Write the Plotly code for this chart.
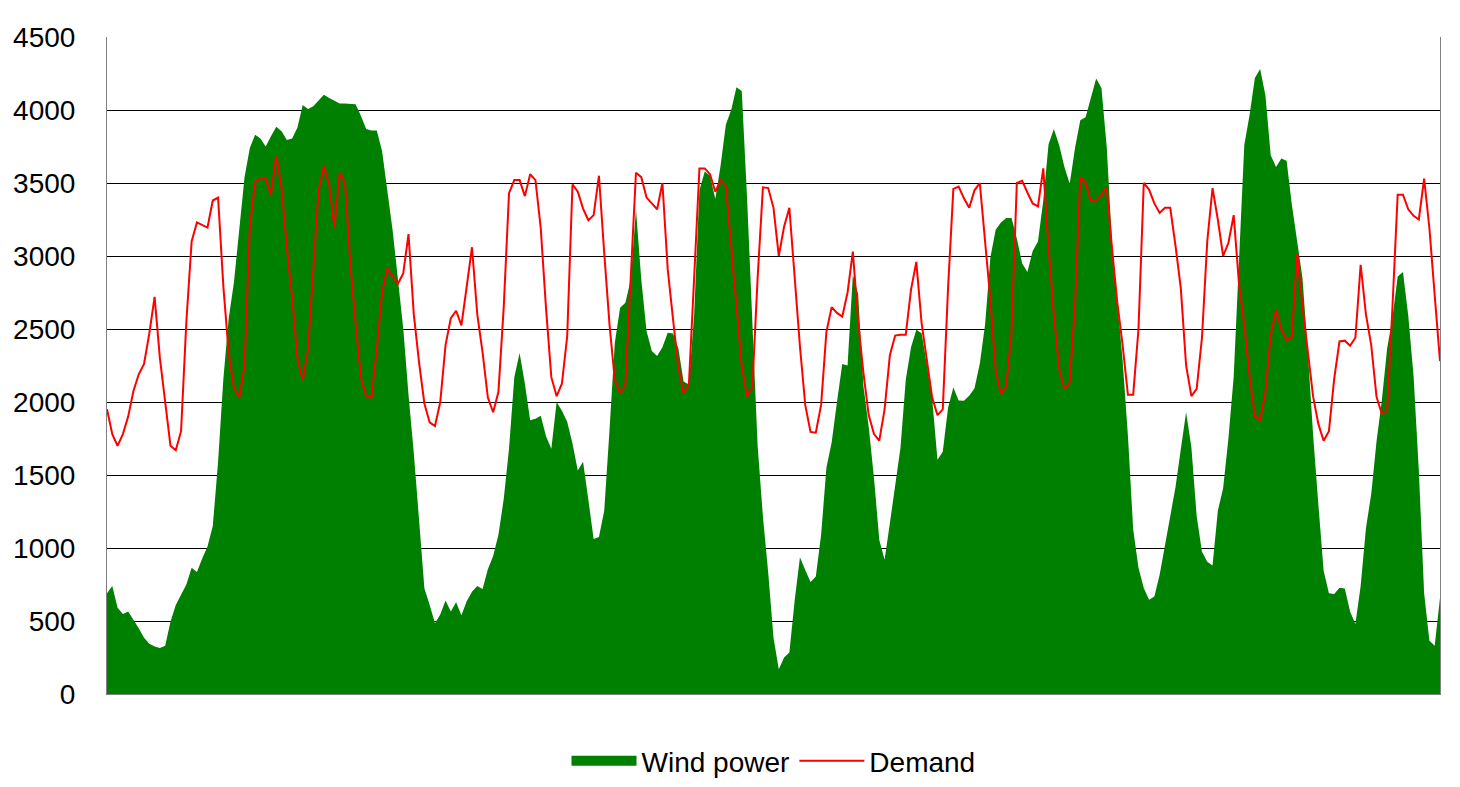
import plotly.graph_objects as go

# three weeks of data, one reading every 2 hours
hours = list(range(0, 505, 2))

demand = [
    1950, 1780, 1700, 1780, 1900, 2075, 2190, 2260, 2470, 2720,
    2300, 1980, 1700, 1670, 1800, 2550, 3100, 3230, 3215, 3195,
    3380, 3400, 2790, 2340, 2100, 2030, 2250, 3200, 3505, 3530,
    3530, 3420, 3690, 3470, 3060, 2720, 2300, 2150, 2360, 2940,
    3450, 3615, 3490, 3200, 3570, 3500, 2950, 2540, 2170, 2040,
    2030, 2360, 2750, 2915, 2860, 2810, 2880, 3150, 2600, 2270,
    1990, 1860, 1835, 2000, 2390, 2575, 2625, 2525, 2790, 3060,
    2600, 2340, 2030, 1930, 2070, 2650, 3430, 3520, 3520, 3410,
    3560, 3520, 3190, 2640, 2170, 2040, 2125, 2450, 3490, 3440,
    3325, 3245, 3280, 3550, 3020, 2530, 2150, 2060, 2120, 2900,
    3570, 3540, 3400, 3360, 3320, 3500, 2910, 2570, 2240, 2060,
    2120, 2850, 3600, 3600, 3560, 3440, 3520, 3480, 3080, 2660,
    2250, 2037, 2100, 2850, 3470, 3465, 3330, 3000, 3200, 3330,
    2860, 2380, 1980, 1795, 1790, 1980, 2480, 2650, 2610, 2585,
    2750, 3030, 2550, 2200, 1910, 1780, 1735, 1950, 2320, 2455,
    2460, 2460, 2770, 2960, 2540, 2280, 2030, 1910, 1950, 2780,
    3460, 3475, 3395, 3330, 3450, 3500, 3100, 2700, 2220, 2055,
    2110, 2480, 3500, 3515, 3435, 3360, 3340, 3600, 3060, 2600,
    2230, 2090, 2130, 2670, 3540, 3500, 3380, 3375, 3420, 3470,
    3050, 2680, 2390, 2050, 2050, 2500, 3500, 3455, 3360, 3295,
    3330, 3330, 3070, 2780, 2250, 2040, 2090, 2440, 3100, 3465,
    3250, 3000, 3090, 3280, 2810, 2530, 2180, 1905, 1875, 2070,
    2460, 2630, 2500, 2420, 2450, 3020, 2660, 2350, 2040, 1850,
    1735, 1800, 2160, 2415, 2420, 2385, 2440, 2940, 2600, 2390,
    2035, 1920, 1940, 2640, 3420, 3420, 3320, 3275, 3250, 3530,
    3190, 2730, 2280,
]

wind = [
    690, 740, 590, 548, 565, 510, 450, 385, 345, 325,
    315, 330, 495, 610, 683, 750, 865, 835, 928, 1010,
    1150, 1590, 2160, 2570, 2820, 3200, 3540, 3740, 3830, 3805,
    3750, 3820, 3885, 3855, 3795, 3805, 3880, 4035, 4006, 4025,
    4065, 4105, 4083, 4065, 4045, 4044, 4044, 4040, 3960, 3870,
    3860, 3860, 3720, 3435, 3175, 2840, 2505, 2050, 1650, 1190,
    725, 610, 485, 545, 640, 565, 628, 540, 635, 700,
    740, 720, 855, 945, 1090, 1335, 1680, 2170, 2335, 2125,
    1875, 1885, 1905, 1765, 1680, 2000, 1940, 1865, 1715, 1530,
    1590, 1330, 1062, 1075, 1255, 1810, 2405, 2646, 2680, 2835,
    3319, 2840, 2485, 2350, 2315, 2375, 2475, 2470, 2370, 2140,
    2120, 2600, 3450, 3578, 3550, 3390, 3620, 3900, 4000, 4155,
    4130, 3400, 2520, 1700, 1215, 833, 385, 170, 250, 285,
    640, 936, 850, 767, 805, 1090, 1550, 1725, 2000, 2260,
    2250, 2870, 2740, 2110, 1830, 1480, 1055, 920, 1170, 1430,
    1685, 2150, 2375, 2495, 2471, 2255, 2020, 1605, 1660, 1960,
    2100, 2010, 2008, 2043, 2095, 2262, 2530, 2990, 3180, 3230,
    3260, 3260, 3120, 2950, 2890, 3035, 3100, 3380, 3765, 3870,
    3760, 3610, 3495, 3740, 3930, 3950, 4080, 4215, 4150, 3745,
    3085, 2685, 2285, 1770, 1126, 865, 726, 645, 668, 817,
    1020, 1222, 1417, 1676, 1930, 1690, 1220, 975, 905, 880,
    1255, 1410, 1750, 2175, 2930, 3760, 3965, 4220, 4280, 4100,
    3690, 3610, 3668, 3652, 3350, 3110, 2850, 2350, 1780, 1300,
    845, 690, 685, 727, 722, 565, 480, 740, 1135, 1370,
    1730, 2010, 2365, 2575, 2860, 2890, 2590, 2180, 1530, 690,
    365, 330, 658,
]

GREEN = "#008000"
RED = "#FF0000"
FONT = "Arial, Liberation Sans, sans-serif"

fig = go.Figure()

# wind power as a filled area (no legend here, the swatch below is used instead)
fig.add_trace(go.Scatter(
    x=hours, y=wind, mode="lines", fill="tozeroy",
    line=dict(color=GREEN, width=0), fillcolor=GREEN,
    showlegend=False, hoverinfo="skip",
))
# legend swatch for the area
fig.add_trace(go.Scatter(
    x=[None], y=[None], mode="lines", name="Wind power",
    line=dict(color=GREEN, width=15),
))
fig.add_trace(go.Scatter(
    x=hours, y=demand, mode="lines", name="Demand",
    line=dict(color=RED, width=2),
))

fig.update_layout(
    width=1460, height=787,
    margin=dict(l=107, r=20, t=37, b=93),
    paper_bgcolor="white", plot_bgcolor="white",
    font=dict(family=FONT, color="black", size=28),
    legend=dict(
        orientation="h", x=0.5, xanchor="center",
        yref="container", y=0.033, yanchor="middle",
        itemwidth=65, font=dict(size=28),
    ),
)
fig.update_xaxes(
    range=[0, 504], showgrid=False, zeroline=False, showticklabels=False,
    showline=True, linecolor="#808080", linewidth=1,
)
fig.update_yaxes(
    range=[0, 4500], dtick=500, tick0=0,
    showgrid=True, gridcolor="black", gridwidth=1,
    zeroline=False, showline=True, mirror=True, linecolor="#808080", linewidth=1,
    ticklabelstandoff=25,
)

# drop the default page margin so the figure sits at the window's corner
fig.write_html(
    "out.html",
    config={"displayModeBar": False},
    post_script="document.body.style.margin='0';",
)
